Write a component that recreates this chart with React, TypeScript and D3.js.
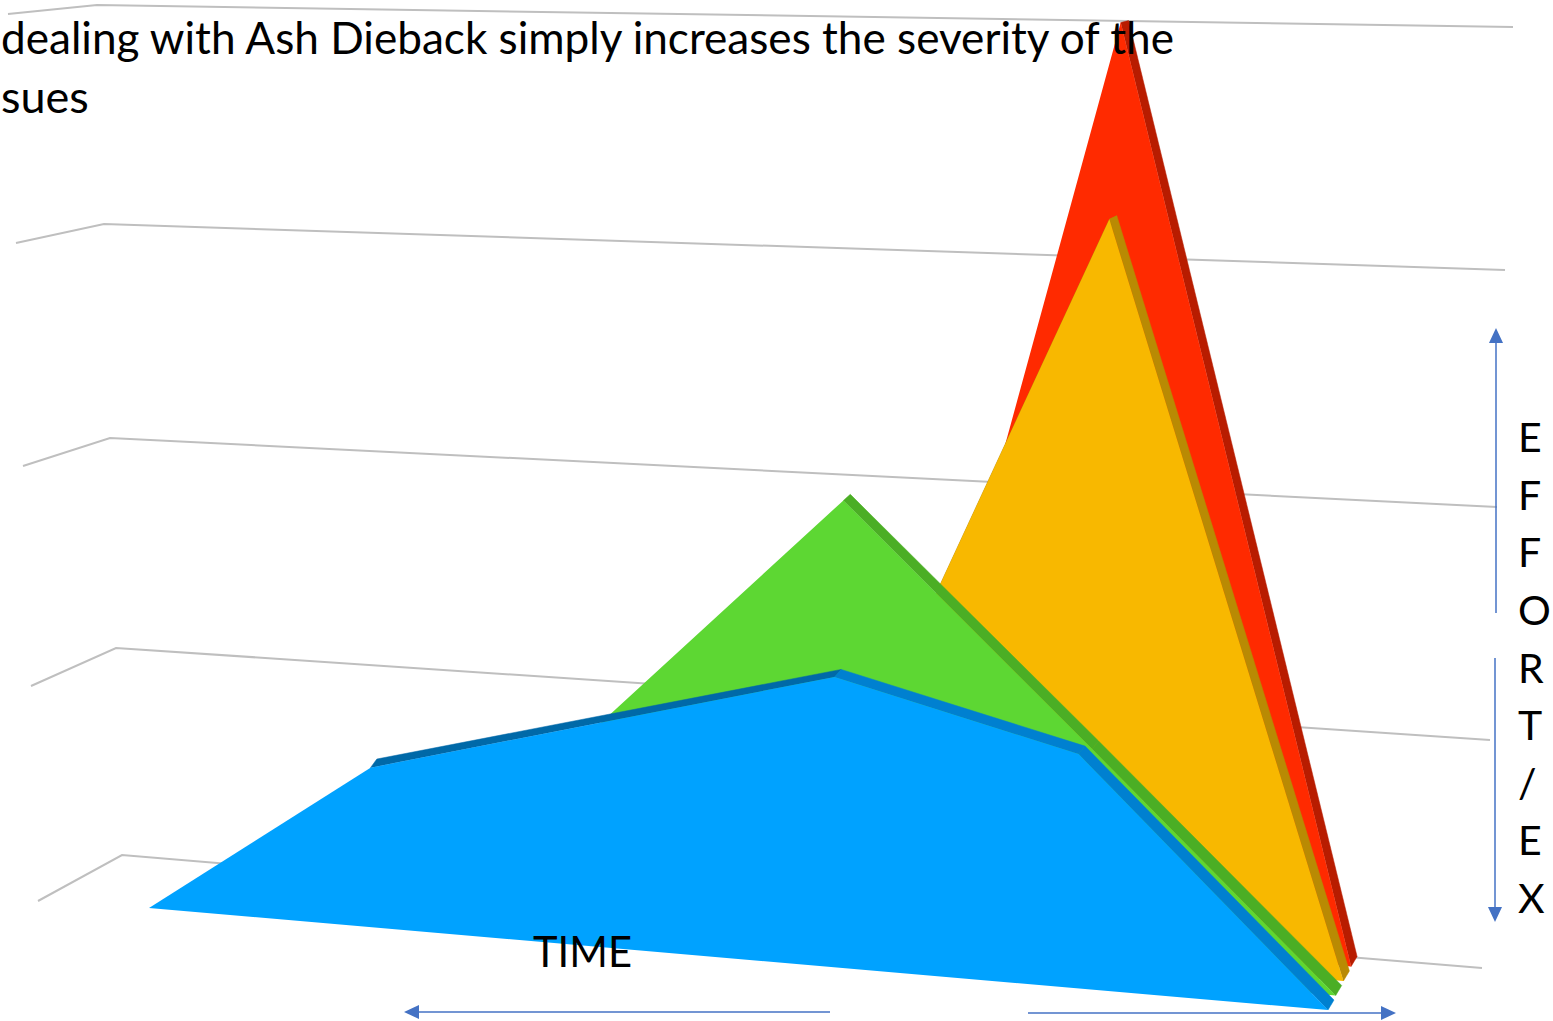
import React from "react";
import * as d3 from "d3";

// Time positions along the floor (percent of the axis) and effort per series.
const blueTimes = [0, 19, 58, 78.5, 100];
const greenTimes = [0, 20, 58, 79, 100];
const yellowTimes = [0, 19, 58, 79, 100];
const redTimes = [0, 59.5, 79, 100];
const blueValues = [0, 71, 129, 104, 0];
const greenValues = [0, 0, 201, 100, 0];
const yellowValues = [0, 0, 70, 329, 0];
const redValues = [0, 0, 410, 0];
const gridLevels = [0, 1, 2, 3, 4];
const effortLetters = ["E", "F", "F", "O", "R", "T", "/", "E", "X"];
const captionLines = ["dealing with Ash Dieback simply increases the severity of the", "sues"];

const WIDTH = 1553;
const HEIGHT = 1021;
const FONT = "Lato, 'Open Sans', sans-serif";
const ARROW = "#4472c4";

// Floor and height mapping of the tilted 3D scene.
const floorX = d3.scaleLinear().domain([0, 100]).range([149, 1328]);
const floorY = d3.scaleLinear().domain([0, 100]).range([908, 1010]);
const heightPx = d3.scaleLinear().domain([0, 400]).range([0, 900]);
const DEPTH_STEP = { x: 7.7, y: 14.5 };

// The three corners of the back walls, one scale per corner.
const wallFrontX = d3.scaleLinear().domain(gridLevels).range([38, 31, 23, 16, 8]);
const wallFrontY = d3.scaleLinear().domain(gridLevels).range([901, 686, 466, 243, 14]);
const wallCornerX = d3.scaleLinear().domain(gridLevels).range([122, 116, 110, 104, 97]);
const wallCornerY = d3.scaleLinear().domain(gridLevels).range([855, 648, 438, 224, 5]);
const wallEndX = d3.scaleLinear().domain(gridLevels).range([1482, 1490, 1497, 1505, 1513]);
const wallEndY = d3.scaleLinear().domain(gridLevels).range([968, 740, 507, 270, 27]);

type Pt = [number, number];

function project(t: number, v: number, z: number): Pt {
  const h = heightPx(v);
  const bx = floorX(t) + z * DEPTH_STEP.x;
  const by = floorY(t) - z * DEPTH_STEP.y;
  // Verticals fan outward from the vanishing point above the scene.
  const lean = (h * (-6 + (14 * (bx - 122)) / 1360)) / 220;
  return [bx + lean, by - h];
}

// The thickness of an area seen from the camera shrinks with height.
function extrude(p: Pt, v: number): Pt {
  const h = heightPx(v);
  return [p[0] + 6 + 0.002 * h, p[1] - 10 + 0.0087 * h];
}

const path = d3.line<Pt>().x((d) => d[0]).y((d) => d[1]);

type AreaProps = {
  ts: number[];
  vs: number[];
  z: number;
  face: string;
  rimUp: string;
  rimDown: string;
};

function Area3D({ ts, vs, z, face, rimUp, rimDown }: AreaProps) {
  const top = ts.map((t, i) => project(t, vs[i], z));
  const back = top.map((p, i) => extrude(p, vs[i]));
  return (
    <g>
      {top.slice(0, -1).map((p, i) => {
        // Segments climbing from the floor face away from the camera.
        if (vs[i] === 0) return null;
        const quad: Pt[] = [p, top[i + 1], back[i + 1], back[i]];
        const col = vs[i + 1] > vs[i] ? rimUp : rimDown;
        return <path key={i} d={path(quad) + "Z"} fill={col} stroke={col} strokeWidth={0.5} />;
      })}
      <path d={path(top) + "Z"} fill={face} />
    </g>
  );
}

function Arrow({ x1, y1, x2, y2 }: { x1: number; y1: number; x2: number; y2: number }) {
  const len = Math.hypot(x2 - x1, y2 - y1);
  const ux = (x2 - x1) / len;
  const uy = (y2 - y1) / len;
  const L = 15;
  const W = 7;
  const bx = x2 - ux * L;
  const by = y2 - uy * L;
  const head: Pt[] = [
    [x2, y2],
    [bx - uy * W, by + ux * W],
    [bx + uy * W, by - ux * W],
  ];
  return (
    <g>
      <line x1={x1} y1={y1} x2={bx} y2={by} stroke={ARROW} strokeWidth={1.5} />
      <path d={path(head) + "Z"} fill={ARROW} />
    </g>
  );
}

const letterY = d3.scaleLinear().domain([0, 8]).range([437, 898]);

export default function App() {
  return (
    <svg
      width={WIDTH}
      height={HEIGHT}
      viewBox={`0 0 ${WIDTH} ${HEIGHT}`}
      style={{ position: "absolute", left: 0, top: 0, display: "block", background: "#fff" }}
    >
      {gridLevels.map((l) => (
        <path
          key={l}
          d={
            path([
              [wallFrontX(l), wallFrontY(l)],
              [wallCornerX(l), wallCornerY(l)],
              [wallEndX(l), wallEndY(l)],
            ]) ?? ""
          }
          fill="none"
          stroke="#bfbfbf"
          strokeWidth={2}
        />
      ))}

      <Area3D ts={redTimes} vs={redValues} z={3} face="#ff2a00" rimUp="#b81c00" rimDown="#b81c00" />
      <Area3D ts={yellowTimes} vs={yellowValues} z={2} face="#f8b800" rimUp="#b98a03" rimDown="#b98a03" />
      <Area3D ts={greenTimes} vs={greenValues} z={1} face="#5dd733" rimUp="#4bae25" rimDown="#4bae25" />
      <Area3D ts={blueTimes} vs={blueValues} z={0} face="#00a2ff" rimUp="#0069a8" rimDown="#0080d0" />

      <g fontFamily={FONT} fill="#000">
        <text x={1} y={54} fontSize={44} textLength={1173} lengthAdjust="spacingAndGlyphs">
          {captionLines[0]}
        </text>
        <text x={1} y={113} fontSize={45}>
          {captionLines[1]}
        </text>
        <text x={533} y={967} fontSize={43} textLength={99} lengthAdjust="spacingAndGlyphs">
          TIME
        </text>
        {effortLetters.map((c, i) => (
          <text key={i} x={1518} y={letterY(i) + 15} fontSize={41}>
            {c}
          </text>
        ))}
      </g>

      <Arrow x1={1496} y1={613} x2={1496} y2={328} />
      <Arrow x1={1495} y1={658} x2={1495} y2={922} />
      <Arrow x1={830} y1={1012} x2={404} y2={1012} />
      <Arrow x1={1028} y1={1013} x2={1396} y2={1013} />
    </svg>
  );
}
